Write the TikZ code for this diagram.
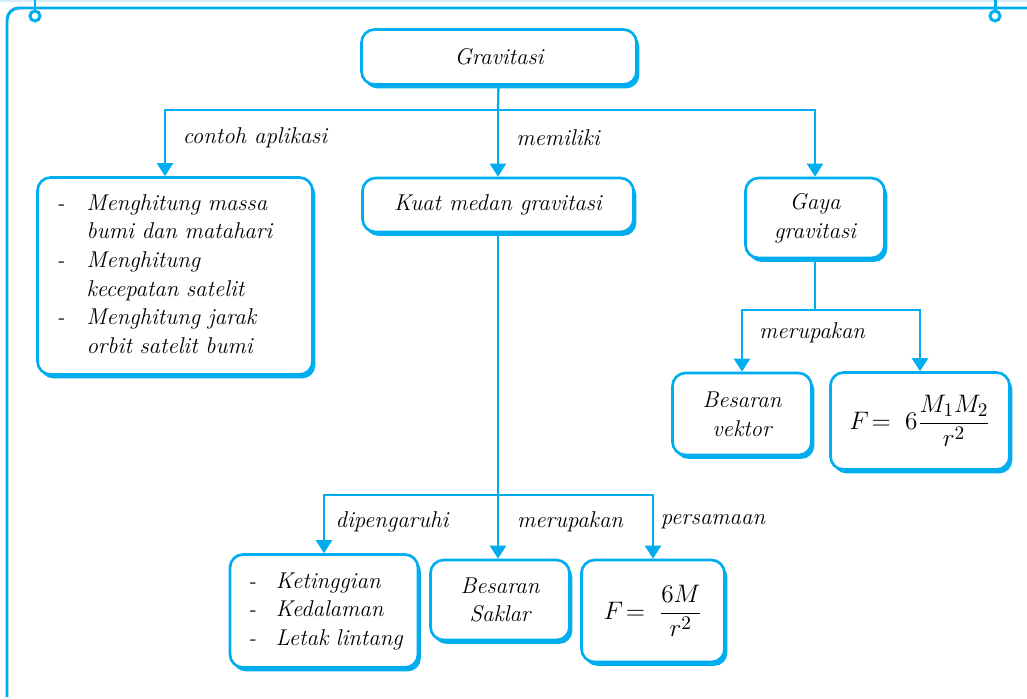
\documentclass[tikz,border=0pt]{standalone}
\usepackage{amsmath}
\usetikzlibrary{arrows.meta,shadows}

\definecolor{skyblue}{RGB}{0,174,239}
\definecolor{paleblue}{RGB}{215,238,250}

\tikzset{
  box/.style={draw=skyblue, line width=1.5pt, rounded corners=0.26cm, fill=white,
    drop shadow={shadow xshift=1.6pt, shadow yshift=-2.2pt, fill=skyblue, opacity=1},
    font=\fontsize{13}{16.3}\selectfont\itshape, align=center, inner sep=2pt},
  listbox/.style={box, align=left},
  mathbox/.style={box, font=\fontsize{15}{18}\selectfont},
  link/.style={skyblue, line width=1.3pt},
  arrow/.style={link, -{Triangle[width=0.32cm, length=0.26cm]}},
  word/.style={font=\fontsize{13}{15}\selectfont\itshape},
  frame/.style={skyblue, line width=1.7pt}
}

\begin{document}
\begin{tikzpicture}[x=0.02cm, y=-0.02cm]
    \useasboundingbox (0,0) rectangle (1027,699);
    \draw[paleblue, line width=1.2pt] (0,1) -- (1027,1);
    \draw[frame] (7,697) -- (7,20) arc [start angle=180, end angle=270, radius=12] -- (1027,8);
    \draw[frame] (35,0) -- (35,11);
    \draw[frame] (35,16) circle [radius=5];
    \draw[frame] (995,0) -- (995,11);
    \draw[frame] (995,16) circle [radius=5];

    \node[box, minimum width=5.5cm, minimum height=1.1cm] (grav) at (499,57) {Gravitasi};
    \node[listbox, minimum height=3.94cm, text width=4.74cm, inner xsep=0.38cm] (apps) at (175,276) {%
      \begin{tabular}{@{}p{0.6cm}@{}l@{}}
        - & Menghitung massa\\
          & bumi dan matahari\\
        - & Menghitung\\
          & kecepatan satelit\\
        - & Menghitung jarak\\
          & orbit satelit bumi
      \end{tabular}};
    \node[box, minimum width=5.42cm, minimum height=1.08cm] (kuat) at (498,205) {Kuat medan gravitasi};
    \node[box, minimum width=2.78cm, minimum height=1.6cm] (gaya) at (815,218) {Gaya\\gravitasi};
    \node[box, minimum width=2.78cm, minimum height=1.64cm] (vektor) at (742,414) {Besaran\\vektor};
    \node[mathbox, minimum width=3.58cm, minimum height=1.94cm] (rumusgaya) at (920,421) {$F\!=\;6\dfrac{M_1M_2}{r^2}$};
    \node[listbox, minimum height=2.26cm, text width=3.04cm, inner xsep=0.36cm] (faktor) at (324,611) {%
      \begin{tabular}{@{}p{0.56cm}@{}l@{}}
        - & Ketinggian\\
        - & Kedalaman\\
        - & Letak lintang
      \end{tabular}};
    \node[box, minimum width=2.78cm, minimum height=1.6cm] (skalar) at (500,600) {Besaran\\Saklar};
    \node[mathbox, minimum width=2.86cm, minimum height=2.04cm] (rumuskuat) at (653,611) {$F\!=\;\dfrac{6M}{r^2}$};

    \coordinate (fork1) at (498,110);
    \coordinate (fork2) at (815,310);
    \coordinate (fork3) at (498,495);

    \draw[link] (grav) -- (fork1);
    \draw[arrow] (fork1) -| ([xshift=-0.2cm]apps.north);
    \draw[arrow] (fork1) -- (fork1 |- kuat.north);
    \draw[arrow] (fork1) -| (gaya.north);

    \draw[link] (gaya) -- (fork2);
    \draw[arrow] (fork2) -| (vektor.north);
    \draw[arrow] (fork2) -| (rumusgaya.north);

    \draw[link] (kuat) -- (fork3);
    \draw[arrow] (fork3) -| (faktor.north);
    \draw[arrow] (fork3) -- (fork3 |- skalar.north);
    \draw[arrow] (fork3) -| (rumuskuat.north);

    \node[word] (aplikasi) at (255,138) {contoh aplikasi};
    \node[word] (memiliki) at (558,138) {memiliki};
    \node[word] (merupakan1) at (812,333) {merupakan};
    \node[word] (dipengaruhi) at (392,522) {dipengaruhi};
    \node[word] (merupakan2) at (570,522) {merupakan};
    \node[word] (persamaan) at (713,522) {persamaan};
\end{tikzpicture}
\end{document}
